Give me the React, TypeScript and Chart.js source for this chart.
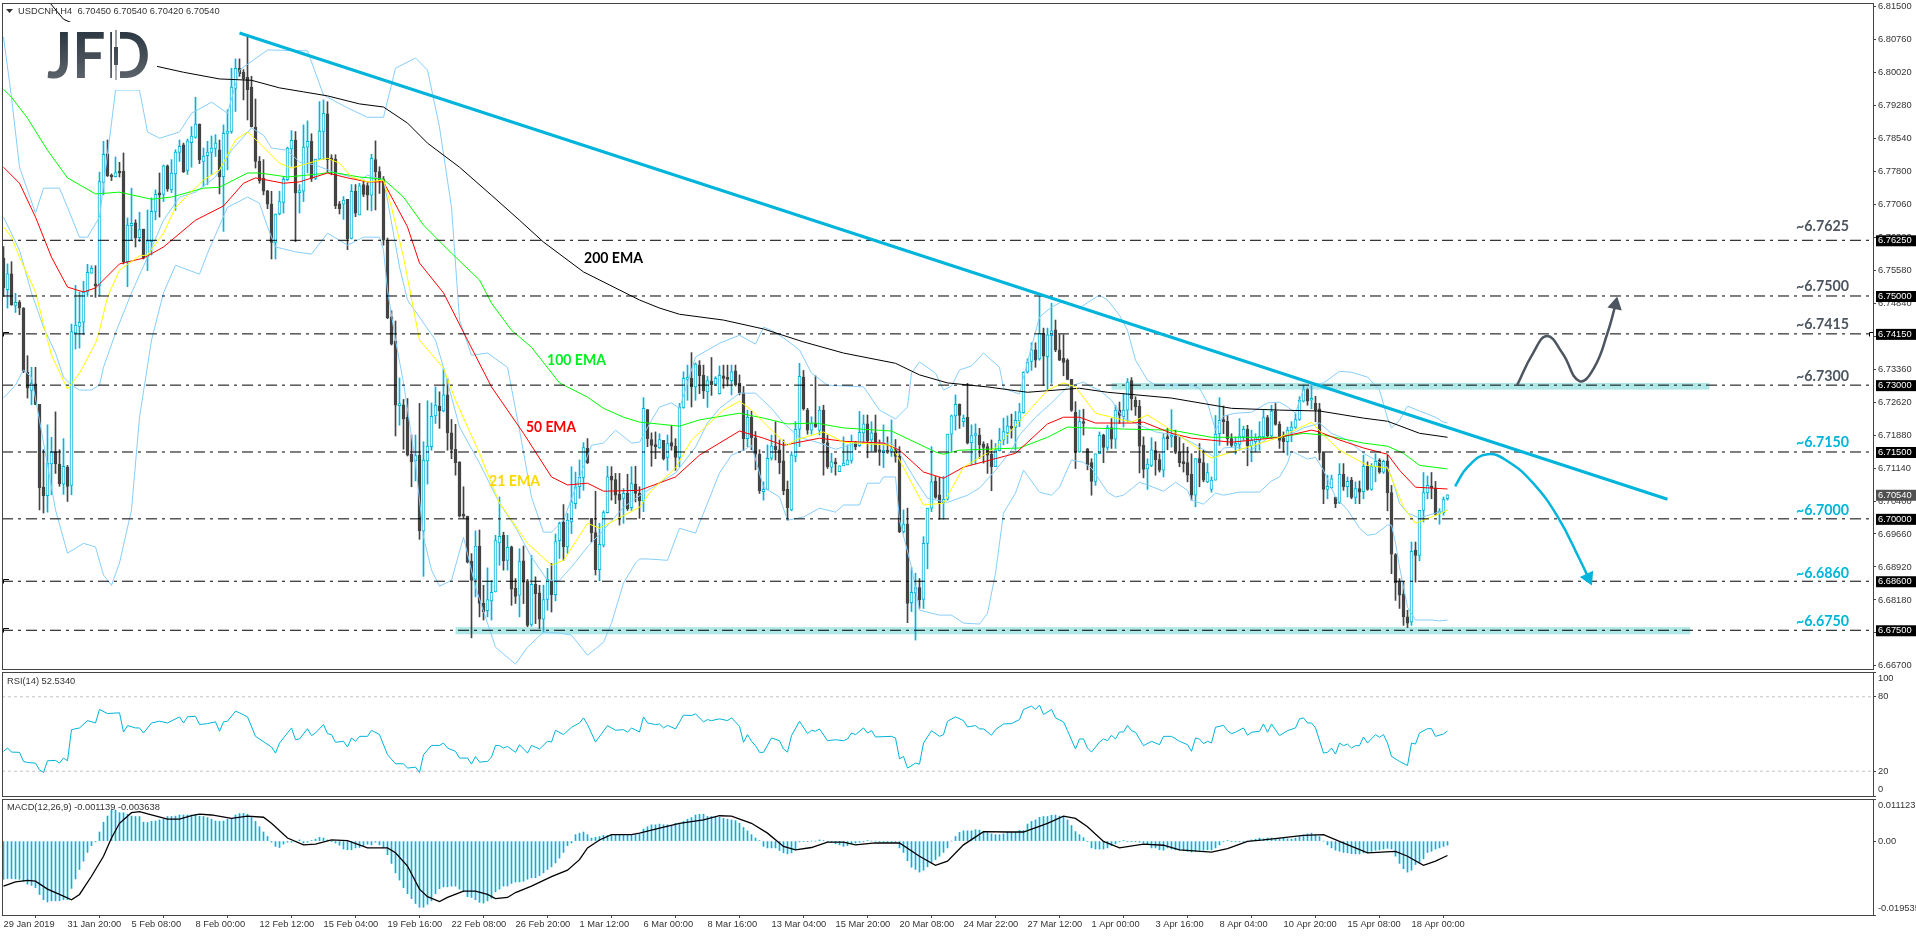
import { useEffect, useRef } from "react";
import { Chart, registerables } from "chart.js";
Chart.register(...registerables);

const opens = [6.7585,6.7514,6.7550,6.7479,6.7486,6.7473,6.7329,6.7288,6.7303,6.7257,6.7071,6.7052,6.7123,6.7151,6.7123,6.7078,6.7116,6.7075,6.7417,6.7432,6.7441,6.7509,6.7551,6.7527,6.7524,6.7755,6.7819,6.7770,6.7768,6.7777,6.7780,6.7577,6.7658,6.7664,6.7631,6.7650,6.7587,6.7622,6.7690,6.7728,6.7728,6.7792,6.7738,6.7774,6.7822,6.7839,6.7782,6.7844,6.7856,6.7886,6.7802,6.7815,6.7822,6.7831,6.7828,6.7768,6.7865,6.7869,6.7966,6.8011,6.8002,6.7991,6.7969,6.7879,6.7802,6.7764,6.7736,6.7706,6.7620,6.7684,6.7710,6.7761,6.7830,6.7850,6.7732,6.7735,6.7834,6.7847,6.7764,6.7807,6.7869,6.7909,6.7806,6.7807,6.7707,6.7706,6.7717,6.7629,6.7735,6.7682,6.7750,6.7748,6.7726,6.7806,6.7779,6.7762,6.7625,6.7453,6.7399,6.7254,6.7256,6.7228,6.7145,6.7130,6.7143,6.6973,6.7130,6.7162,6.7231,6.7253,6.7242,6.7278,6.7193,6.7156,6.7128,6.7007,6.7006,6.6905,6.6864,6.6939,6.6811,6.6794,6.6816,6.6836,6.6946,6.6963,6.6907,6.6937,6.6844,6.6829,6.6906,6.6861,6.6763,6.6853,6.6834,6.6775,6.6819,6.6862,6.6830,6.6951,6.6992,6.6937,6.6993,6.7034,6.7072,6.7093,6.7158,6.7001,6.6969,6.6886,6.6941,6.7014,6.7096,6.7088,6.7055,6.7046,6.7057,6.7025,6.7078,6.7057,6.7040,6.7245,6.7178,6.7165,6.7159,6.7176,6.7138,6.7171,6.7163,6.7138,6.7250,6.7313,6.7316,6.7296,6.7345,6.7322,6.7285,6.7309,6.7302,6.7281,6.7321,6.7315,6.7310,6.7332,6.7304,6.7283,6.7180,6.7228,6.7182,6.7145,6.7061,6.7066,6.7136,6.7163,6.7155,6.7130,6.7066,6.7020,6.7140,6.7201,6.7318,6.7244,6.7199,6.7214,6.7199,6.7244,6.7171,6.7116,6.7128,6.7106,6.7119,6.7121,6.7131,6.7172,6.7164,6.7193,6.7213,6.7177,6.7193,6.7155,6.7148,6.7153,6.7152,6.7157,6.7141,6.6971,6.6988,6.6812,6.6834,6.6846,6.6819,6.6945,6.7024,6.7084,6.7054,6.7036,6.7044,6.7190,6.7231,6.7257,6.7218,6.7228,6.7171,6.7187,6.7188,6.7168,6.7162,6.7145,6.7117,6.7153,6.7177,6.7193,6.7206,6.7205,6.7220,6.7238,6.7329,6.7353,6.7379,6.7359,6.7416,6.7364,6.7411,6.7424,6.7379,6.7360,6.7356,6.7313,6.7239,6.7150,6.7218,6.7157,6.7126,6.7084,6.7146,6.7188,6.7160,6.7205,6.7179,6.7244,6.7229,6.7244,6.7310,6.7266,6.7253,6.7165,6.7112,6.7120,6.7154,6.7133,6.7109,6.7182,6.7183,6.7185,6.7149,6.7128,6.7126,6.7100,6.7053,6.7135,6.7126,6.7083,6.7066,6.7087,6.7191,6.7220,6.7219,6.7180,6.7165,6.7167,6.7184,6.7201,6.7164,6.7173,6.7176,6.7184,6.7227,6.7186,6.7242,6.7212,6.7182,6.7173,6.7197,6.7205,6.7223,6.7264,6.7290,6.7266,6.7259,6.7247,6.7148,6.7066,6.7070,6.7048,6.7036,6.7100,6.7072,6.7087,6.7048,6.7068,6.7061,6.7118,6.7066,6.7117,6.7132,6.7105,6.7130,6.7059,6.6920,6.6859,6.6831,6.6780,6.6769,6.6930,6.6918,6.7019,6.7058,6.7072,6.7069,6.7013,6.7014,6.7045];
const highs = [6.7611,6.7572,6.7577,6.7506,6.7490,6.7474,6.7366,6.7340,6.7340,6.7257,6.7155,6.7211,6.7183,6.7240,6.7155,6.7180,6.7120,6.7437,6.7524,6.7509,6.7533,6.7571,6.7568,6.7568,6.7778,6.7847,6.7850,6.7774,6.7812,6.7800,6.7821,6.7675,6.7742,6.7671,6.7688,6.7650,6.7693,6.7720,6.7738,6.7776,6.7794,6.7794,6.7806,6.7828,6.7850,6.7843,6.7852,6.7880,6.7946,6.7886,6.7832,6.7847,6.7859,6.7862,6.7850,6.7884,6.7918,6.8011,6.8032,6.8032,6.8008,6.8086,6.7993,6.7942,6.7813,6.7806,6.7737,6.7735,6.7684,6.7735,6.7768,6.7834,6.7871,6.7869,6.7750,6.7884,6.7893,6.7864,6.7807,6.7936,6.7940,6.7936,6.7817,6.7817,6.7712,6.7723,6.7717,6.7750,6.7750,6.7753,6.7760,6.7754,6.7818,6.7848,6.7790,6.7768,6.7630,6.7467,6.7444,6.7316,6.7268,6.7270,6.7188,6.7188,6.7259,6.7173,6.7265,6.7260,6.7296,6.7285,6.7337,6.7315,6.7223,6.7212,6.7128,6.7072,6.7006,6.6922,6.6973,6.6975,6.6851,6.6890,6.6862,6.6963,6.7049,6.6970,6.6963,6.6939,6.6866,6.6933,6.6939,6.6864,6.6918,6.6870,6.6851,6.6851,6.6889,6.6900,6.6966,6.6993,6.7032,6.7012,6.7117,6.7105,6.7132,6.7171,6.7180,6.7001,6.7062,6.6990,6.7018,6.7118,6.7117,6.7102,6.7102,6.7068,6.7100,6.7117,6.7118,6.7072,6.7272,6.7245,6.7193,6.7195,6.7191,6.7176,6.7188,6.7210,6.7180,6.7259,6.7330,6.7345,6.7373,6.7350,6.7355,6.7345,6.7320,6.7362,6.7319,6.7343,6.7345,6.7345,6.7345,6.7345,6.7323,6.7297,6.7244,6.7242,6.7196,6.7155,6.7083,6.7166,6.7188,6.7218,6.7177,6.7177,6.7085,6.7151,6.7218,6.7349,6.7333,6.7248,6.7229,6.7321,6.7252,6.7255,6.7188,6.7147,6.7136,6.7119,6.7184,6.7166,6.7188,6.7174,6.7241,6.7233,6.7233,6.7218,6.7233,6.7177,6.7211,6.7184,6.7222,6.7178,6.7162,6.7020,6.7024,6.6891,6.6878,6.6866,6.6960,6.7024,6.7162,6.7095,6.7093,6.7095,6.7190,6.7233,6.7278,6.7258,6.7233,6.7304,6.7211,6.7213,6.7203,6.7173,6.7169,6.7177,6.7169,6.7203,6.7226,6.7231,6.7235,6.7241,6.7259,6.7330,6.7359,6.7395,6.7395,6.7502,6.7428,6.7428,6.7484,6.7446,6.7413,6.7413,6.7359,6.7313,6.7263,6.7244,6.7246,6.7158,6.7135,6.7146,6.7195,6.7190,6.7210,6.7225,6.7255,6.7262,6.7281,6.7315,6.7317,6.7274,6.7266,6.7184,6.7135,6.7182,6.7173,6.7146,6.7191,6.7203,6.7245,6.7199,6.7184,6.7169,6.7161,6.7146,6.7135,6.7169,6.7154,6.7124,6.7094,6.7232,6.7272,6.7253,6.7232,6.7191,6.7184,6.7225,6.7208,6.7210,6.7199,6.7191,6.7218,6.7244,6.7232,6.7255,6.7259,6.7218,6.7195,6.7206,6.7218,6.7236,6.7274,6.7300,6.7292,6.7300,6.7275,6.7259,6.7149,6.7098,6.7098,6.7049,6.7124,6.7124,6.7094,6.7093,6.7083,6.7085,6.7143,6.7128,6.7124,6.7146,6.7135,6.7132,6.7143,6.7075,6.6922,6.6866,6.6859,6.6795,6.6948,6.6948,6.7019,6.7104,6.7096,6.7104,6.7084,6.7023,6.7049,6.7054];
const lows = [6.7499,6.7473,6.7479,6.7463,6.7458,6.7328,6.7271,6.7256,6.7256,6.7020,6.7013,6.7015,6.7054,6.7102,6.7073,6.7055,6.7039,6.7054,6.7381,6.7383,6.7413,6.7499,6.7551,6.7497,6.7500,6.7727,6.7768,6.7759,6.7767,6.7767,6.7572,6.7521,6.7626,6.7610,6.7622,6.7583,6.7557,6.7592,6.7671,6.7677,6.7712,6.7735,6.7732,6.7692,6.7802,6.7777,6.7773,6.7789,6.7854,6.7797,6.7746,6.7750,6.7772,6.7813,6.7729,6.7645,6.7783,6.7865,6.7914,6.7993,6.7940,6.7895,6.7879,6.7787,6.7753,6.7727,6.7696,6.7583,6.7583,6.7682,6.7686,6.7759,6.7791,6.7622,6.7686,6.7712,6.7776,6.7757,6.7761,6.7806,6.7806,6.7779,6.7772,6.7696,6.7684,6.7672,6.7604,6.7628,6.7678,6.7682,6.7723,6.7693,6.7691,6.7693,6.7730,6.7614,6.7449,6.7390,6.7186,6.7210,6.7156,6.7141,6.7072,6.7085,6.6954,6.6871,6.7078,6.7154,6.7214,6.7203,6.7240,6.7154,6.7135,6.7098,6.7004,6.7001,6.6901,6.6733,6.6825,6.6780,6.6773,6.6780,6.6773,6.6836,6.6896,6.6885,6.6885,6.6806,6.6810,6.6780,6.6810,6.6758,6.6759,6.6765,6.6754,6.6746,6.6795,6.6791,6.6816,6.6911,6.6907,6.6922,6.6967,6.7023,6.7046,6.7064,6.7124,6.6948,6.6874,6.6861,6.6937,6.7013,6.7042,6.7034,6.6986,6.6990,6.7019,6.7019,6.7038,6.7001,6.7016,6.7162,6.7118,6.7135,6.7158,6.7132,6.7109,6.7154,6.7109,6.7117,6.7248,6.7266,6.7251,6.7266,6.7281,6.7270,6.7250,6.7277,6.7300,6.7280,6.7293,6.7298,6.7278,6.7298,6.7278,6.7153,6.7162,6.7155,6.7110,6.7057,6.7042,6.7065,6.7132,6.7132,6.7101,6.7054,6.6997,6.7018,6.7128,6.7162,6.7244,6.7190,6.7190,6.7205,6.7188,6.7098,6.7113,6.7104,6.7098,6.7106,6.7119,6.7121,6.7125,6.7155,6.7162,6.7169,6.7137,6.7152,6.7151,6.7120,6.7115,6.7147,6.7140,6.7127,6.6969,6.6968,6.6767,6.6792,6.6728,6.6799,6.6799,6.6888,6.7016,6.7046,6.6999,6.6999,6.7042,6.7151,6.7199,6.7203,6.7207,6.7168,6.7122,6.7123,6.7136,6.7125,6.7102,6.7063,6.7117,6.7152,6.7166,6.7169,6.7181,6.7154,6.7207,6.7237,6.7327,6.7333,6.7340,6.7356,6.7300,6.7289,6.7304,6.7375,6.7355,6.7321,6.7312,6.7241,6.7113,6.7149,6.7188,6.7110,6.7053,6.7075,6.7146,6.7126,6.7154,6.7158,6.7158,6.7214,6.7206,6.7218,6.7244,6.7232,6.7103,6.7092,6.7066,6.7117,6.7098,6.7105,6.7094,6.7155,6.7161,6.7146,6.7117,6.7105,6.7083,6.7042,6.7027,6.7072,6.7083,6.7081,6.7060,6.7087,6.7165,6.7191,6.7165,6.7161,6.7145,6.7154,6.7176,6.7119,6.7128,6.7150,6.7154,6.7180,6.7184,6.7180,6.7210,6.7158,6.7150,6.7143,6.7173,6.7203,6.7221,6.7262,6.7255,6.7247,6.7218,6.7132,6.7034,6.7045,6.7068,6.7025,6.7034,6.7064,6.7049,6.7045,6.7034,6.7034,6.7045,6.7064,6.7064,6.7083,6.7102,6.7102,6.7018,6.6877,6.6817,6.6799,6.6761,6.6756,6.6761,6.6858,6.6906,6.6993,6.7045,6.7045,6.7008,6.6988,6.7008,6.7042];
const closes = [6.7518,6.7550,6.7480,6.7486,6.7473,6.7331,6.7293,6.7304,6.7257,6.7070,6.7052,6.7125,6.7150,6.7123,6.7079,6.7118,6.7073,6.7420,6.7435,6.7441,6.7509,6.7553,6.7562,6.7523,6.7757,6.7818,6.7770,6.7767,6.7777,6.7776,6.7577,6.7659,6.7663,6.7631,6.7649,6.7585,6.7624,6.7690,6.7728,6.7727,6.7792,6.7741,6.7776,6.7823,6.7836,6.7779,6.7848,6.7859,6.7886,6.7806,6.7814,6.7823,6.7832,6.7843,6.7767,6.7865,6.7870,6.7969,6.8011,6.7999,6.7987,6.7963,6.7880,6.7802,6.7758,6.7735,6.7706,6.7620,6.7684,6.7712,6.7762,6.7832,6.7849,6.7731,6.7735,6.7834,6.7847,6.7764,6.7807,6.7870,6.7910,6.7806,6.7805,6.7702,6.7696,6.7715,6.7628,6.7735,6.7686,6.7747,6.7728,6.7726,6.7809,6.7779,6.7760,6.7625,6.7451,6.7392,6.7255,6.7257,6.7224,6.7143,6.7128,6.7142,6.6973,6.7132,6.7163,6.7230,6.7255,6.7242,6.7278,6.7193,6.7156,6.7126,6.7006,6.7006,6.6903,6.6862,6.6939,6.6810,6.6791,6.6819,6.6835,6.6951,6.6961,6.6906,6.6936,6.6842,6.6826,6.6904,6.6858,6.6761,6.6853,6.6832,6.6775,6.6819,6.6865,6.6830,6.6949,6.6990,6.6937,6.6997,6.7038,6.7072,6.7093,6.7160,6.7126,6.6969,6.6886,6.6943,6.7014,6.7094,6.7087,6.7053,6.7042,6.7057,6.7023,6.7079,6.7057,6.7040,6.7248,6.7180,6.7165,6.7162,6.7178,6.7135,6.7169,6.7163,6.7138,6.7250,6.7315,6.7316,6.7296,6.7347,6.7321,6.7287,6.7310,6.7301,6.7315,6.7322,6.7315,6.7313,6.7330,6.7300,6.7283,6.7180,6.7228,6.7182,6.7145,6.7063,6.7066,6.7136,6.7163,6.7155,6.7126,6.7063,6.7025,6.7143,6.7201,6.7320,6.7247,6.7199,6.7214,6.7207,6.7244,6.7171,6.7117,6.7128,6.7123,6.7119,6.7125,6.7132,6.7172,6.7162,6.7194,6.7213,6.7175,6.7193,6.7152,6.7149,6.7154,6.7149,6.7157,6.7140,6.6971,6.6988,6.6810,6.6835,6.6846,6.6818,6.6945,6.7024,6.7083,6.7048,6.7036,6.7044,6.7190,6.7231,6.7257,6.7232,6.7226,6.7170,6.7187,6.7188,6.7166,6.7160,6.7143,6.7117,6.7155,6.7177,6.7196,6.7208,6.7203,6.7221,6.7240,6.7329,6.7352,6.7379,6.7356,6.7416,6.7365,6.7413,6.7422,6.7379,6.7356,6.7351,6.7313,6.7243,6.7149,6.7218,6.7214,6.7121,6.7084,6.7146,6.7188,6.7160,6.7205,6.7179,6.7244,6.7232,6.7244,6.7307,6.7269,6.7251,6.7163,6.7111,6.7123,6.7155,6.7133,6.7109,6.7182,6.7180,6.7184,6.7149,6.7126,6.7124,6.7098,6.7053,6.7135,6.7126,6.7087,6.7104,6.7087,6.7190,6.7221,6.7218,6.7180,6.7165,6.7169,6.7186,6.7201,6.7164,6.7176,6.7182,6.7185,6.7227,6.7186,6.7242,6.7212,6.7176,6.7173,6.7199,6.7206,6.7223,6.7266,6.7290,6.7264,6.7267,6.7245,6.7148,6.7066,6.7073,6.7090,6.7034,6.7100,6.7072,6.7084,6.7048,6.7068,6.7060,6.7118,6.7066,6.7117,6.7129,6.7105,6.7129,6.7058,6.6921,6.6856,6.6829,6.6780,6.6766,6.6927,6.6918,6.7019,6.7059,6.7075,6.7069,6.7010,6.7014,6.7043,6.7054];

const ema200 = [[10,6.8175],[15,6.8121],[27,6.8074],[38,6.8016],[45,6.8002],[54,6.7987],[62,6.7984],[69,6.7967],[75,6.7958],[81,6.7949],[89,6.7931],[95,6.7924],[101,6.7888],[106,6.7843],[114,6.7789],[122,6.7726],[129,6.7670],[135,6.7621],[145,6.7554],[159,6.7491],[164,6.7473],[169,6.7459],[180,6.7446],[190,6.7426],[200,6.7397],[210,6.7372],[223,6.7349],[229,6.7323],[236,6.7305],[246,6.7296],[256,6.7284],[269,6.7293],[276,6.7284],[292,6.7271],[307,6.7248],[319,6.7244],[329,6.7242],[340,6.7226],[346,6.7219],[354,6.7192],[361,6.7183]];
const ema100 = [[0,6.7964],[2,6.7946],[6,6.7899],[11,6.7827],[16,6.7765],[23,6.7729],[29,6.7733],[37,6.7717],[42,6.7722],[50,6.7742],[54,6.7744],[61,6.7776],[64,6.7776],[71,6.7767],[79,6.7774],[82,6.7778],[89,6.7767],[95,6.7762],[100,6.7722],[105,6.7659],[112,6.7596],[119,6.7536],[122,6.7484],[127,6.7423],[132,6.7385],[139,6.7305],[146,6.7273],[150,6.7248],[155,6.7228],[159,6.7217],[169,6.7208],[174,6.7222],[184,6.7237],[190,6.7226],[196,6.7213],[203,6.7215],[210,6.7204],[222,6.7197],[233,6.7150],[235,6.7145],[239,6.7154],[254,6.7159],[261,6.7183],[266,6.7206],[271,6.7204],[282,6.7201],[292,6.7199],[302,6.7183],[319,6.7183],[325,6.7192],[330,6.7188],[340,6.7170],[346,6.7163],[350,6.7147],[354,6.7120],[361,6.7112]];
const ema50 = [[0,6.7789],[4,6.7753],[8,6.7677],[12,6.7587],[16,6.7520],[20,6.7509],[23,6.7518],[29,6.7572],[35,6.7585],[40,6.7610],[48,6.7670],[55,6.7702],[60,6.7753],[63,6.7765],[70,6.7753],[74,6.7756],[81,6.7776],[86,6.7765],[91,6.7756],[95,6.7756],[101,6.7655],[104,6.7574],[110,6.7507],[116,6.7401],[122,6.7296],[130,6.7192],[137,6.7094],[141,6.7076],[146,6.7080],[150,6.7062],[159,6.7064],[168,6.7094],[174,6.7143],[184,6.7197],[190,6.7181],[195,6.7165],[204,6.7181],[210,6.7174],[220,6.7170],[224,6.7154],[230,6.7105],[235,6.7091],[240,6.7116],[253,6.7147],[261,6.7213],[265,6.7228],[269,6.7228],[273,6.7215],[282,6.7215],[285,6.7217],[292,6.7192],[297,6.7181],[307,6.7172],[319,6.7183],[327,6.7199],[329,6.7195],[334,6.7177],[340,6.7159],[346,6.7145],[349,6.7109],[353,6.7071],[361,6.7067]];
const ema21 = [[0,6.7655],[2,6.7632],[4,6.7587],[8,6.7509],[11,6.7401],[12,6.7367],[16,6.7291],[19,6.7327],[23,6.7394],[24,6.7423],[26,6.7498],[29,6.7558],[34,6.7590],[36,6.7592],[40,6.7641],[43,6.7699],[50,6.7760],[54,6.7783],[58,6.7850],[61,6.7868],[64,6.7843],[69,6.7798],[72,6.7787],[79,6.7805],[81,6.7809],[84,6.7798],[87,6.7767],[91,6.7756],[95,6.7760],[97,6.7699],[100,6.7587],[104,6.7401],[110,6.7338],[113,6.7266],[119,6.7147],[124,6.7035],[127,6.6997],[131,6.6945],[137,6.6896],[140,6.6907],[146,6.6990],[149,6.6979],[159,6.7026],[162,6.7064],[168,6.7114],[172,6.7177],[180,6.7244],[184,6.7264],[187,6.7244],[192,6.7199],[196,6.7165],[198,6.7177],[205,6.7195],[210,6.7172],[222,6.7165],[224,6.7132],[230,6.7031],[235,6.7035],[240,6.7116],[248,6.7159],[261,6.7289],[265,6.7305],[268,6.7296],[273,6.7237],[282,6.7217],[286,6.7233],[292,6.7199],[302,6.7136],[319,6.7183],[327,6.7217],[330,6.7188],[334,6.7154],[341,6.7120],[346,6.7114],[350,6.7026],[353,6.6990],[360,6.7015],[361,6.7020]];
const bbUpper = [[0,6.8081],[2,6.7946],[4,6.7789],[8,6.7686],[10,6.7742],[14,6.7742],[16,6.7699],[19,6.7632],[21,6.7632],[24,6.7677],[27,6.7888],[28,6.7962],[34,6.7962],[36,6.7868],[39,6.7854],[44,6.7868],[47,6.7910],[52,6.7935],[56,6.7910],[59,6.8007],[66,6.8052],[76,6.8050],[80,6.7951],[86,6.7922],[91,6.7901],[95,6.7901],[98,6.8011],[103,6.8034],[106,6.8007],[109,6.7879],[112,6.7699],[114,6.7446],[117,6.7367],[121,6.7372],[126,6.7340],[129,6.7199],[132,6.7049],[135,6.6970],[137,6.6970],[140,6.6997],[147,6.7165],[150,6.7170],[153,6.7199],[157,6.7170],[159,6.7172],[162,6.7221],[164,6.7251],[167,6.7260],[169,6.7248],[173,6.7363],[179,6.7394],[184,6.7412],[188,6.7392],[190,6.7430],[192,6.7423],[195,6.7406],[199,6.7379],[202,6.7327],[206,6.7300],[215,6.7296],[219,6.7244],[223,6.7224],[226,6.7251],[227,6.7327],[229,6.7352],[233,6.7327],[235,6.7289],[237,6.7298],[239,6.7334],[242,6.7343],[245,6.7372],[249,6.7340],[250,6.7293],[254,6.7280],[255,6.7318],[259,6.7453],[262,6.7475],[265,6.7489],[269,6.7473],[272,6.7491],[274,6.7502],[276,6.7491],[279,6.7457],[281,6.7423],[283,6.7356],[286,6.7311],[288,6.7300],[297,6.7300],[299,6.7293],[301,6.7260],[303,6.7199],[305,6.7231],[308,6.7237],[312,6.7239],[316,6.7260],[319,6.7262],[321,6.7251],[323,6.7237],[325,6.7291],[327,6.7300],[330,6.7305],[334,6.7331],[337,6.7329],[341,6.7318],[344,6.7289],[346,6.7226],[347,6.7204],[349,6.7221],[351,6.7253],[354,6.7242],[358,6.7228],[360,6.7217],[361,6.7215]];
const bbMiddle = [[0,6.7677],[4,6.7603],[7,6.7507],[10,6.7430],[13,6.7372],[15,6.7318],[17,6.7300],[19,6.7289],[22,6.7289],[24,6.7300],[25,6.7340],[28,6.7417],[32,6.7507],[36,6.7587],[40,6.7670],[44,6.7722],[48,6.7733],[53,6.7767],[57,6.7827],[62,6.7877],[65,6.7861],[67,6.7832],[71,6.7827],[74,6.7800],[78,6.7794],[83,6.7776],[87,6.7767],[89,6.7760],[91,6.7771],[95,6.7760],[96,6.7715],[99,6.7565],[101,6.7491],[108,6.7401],[110,6.7340],[114,6.7206],[119,6.7125],[124,6.7035],[128,6.6981],[132,6.6914],[136,6.6862],[139,6.6862],[142,6.6892],[146,6.6937],[150,6.6975],[155,6.7026],[160,6.7058],[168,6.7103],[173,6.7161],[176,6.7215],[179,6.7248],[184,6.7282],[188,6.7282],[192,6.7248],[195,6.7215],[199,6.7183],[204,6.7170],[208,6.7156],[213,6.7170],[217,6.7170],[222,6.7170],[224,6.7147],[228,6.7087],[231,6.7046],[236,6.7037],[241,6.7053],[244,6.7069],[248,6.7109],[252,6.7154],[254,6.7188],[258,6.7228],[262,6.7260],[266,6.7296],[270,6.7307],[272,6.7296],[274,6.7289],[277,6.7266],[280,6.7226],[284,6.7210],[288,6.7195],[293,6.7188],[297,6.7172],[301,6.7150],[303,6.7136],[305,6.7159],[308,6.7161],[312,6.7154],[316,6.7181],[319,6.7183],[323,6.7195],[325,6.7204],[329,6.7215],[332,6.7192],[336,6.7177],[340,6.7147],[343,6.7132],[346,6.7116],[347,6.7094],[349,6.7035],[351,6.7013],[354,6.7002],[358,6.7013],[361,6.7020]];
const bbLower = [[0,6.7271],[3,6.7300],[5,6.7334],[7,6.7318],[9,6.7221],[13,6.7020],[16,6.6923],[20,6.6945],[23,6.6937],[25,6.6874],[27,6.6851],[29,6.6901],[32,6.7020],[34,6.7228],[37,6.7401],[40,6.7507],[43,6.7569],[49,6.7549],[51,6.7596],[56,6.7699],[61,6.7722],[64,6.7708],[66,6.7655],[68,6.7610],[73,6.7599],[77,6.7594],[81,6.7641],[84,6.7625],[86,6.7614],[90,6.7632],[94,6.7632],[95,6.7603],[96,6.7513],[98,6.7401],[100,6.7305],[103,6.7125],[105,6.6959],[107,6.6885],[109,6.6849],[112,6.6862],[115,6.6959],[118,6.6847],[121,6.6766],[123,6.6712],[128,6.6674],[131,6.6712],[135,6.6746],[139,6.6744],[142,6.6739],[146,6.6694],[150,6.6723],[152,6.6766],[155,6.6856],[158,6.6901],[159,6.6910],[161,6.6910],[166,6.6907],[169,6.6979],[173,6.6968],[176,6.7035],[179,6.7103],[182,6.7143],[185,6.7154],[187,6.7165],[190,6.7071],[194,6.7049],[196,6.6997],[200,6.7004],[204,6.7024],[208,6.7015],[210,6.7031],[214,6.7031],[216,6.7080],[219,6.7080],[220,6.7094],[223,6.7094],[224,6.6997],[227,6.6892],[229,6.6795],[234,6.6784],[237,6.6784],[240,6.6766],[244,6.6764],[246,6.6788],[248,6.6878],[250,6.7013],[253,6.7058],[255,6.7109],[259,6.7060],[262,6.7053],[264,6.7071],[267,6.7132],[270,6.7127],[272,6.7114],[274,6.7087],[276,6.7060],[278,6.7049],[280,6.7053],[284,6.7082],[286,6.7076],[290,6.7062],[293,6.7082],[296,6.7064],[297,6.7042],[300,6.7033],[303,6.7058],[305,6.7053],[309,6.7060],[314,6.7060],[317,6.7085],[319,6.7094],[321,6.7125],[322,6.7152],[324,6.7143],[326,6.7134],[328,6.7138],[330,6.7109],[333,6.7049],[336,6.7020],[339,6.6979],[341,6.6963],[343,6.6966],[346,6.6986],[347,6.6986],[348,6.6946],[349,6.6892],[351,6.6802],[353,6.6773],[357,6.6773],[359,6.6771],[361,6.6773]];

const trendLine = [[59,6.8090],[416,6.7044]];
const arrowUp = [[378.4,6.7300],[382.4,6.7372],[385.9,6.7410],[389.7,6.7372],[394,6.7309],[397.7,6.7340],[401,6.7417],[403,6.7480]];
const arrowDown = [[362.9,6.7073],[366,6.7116],[371,6.7145],[376.4,6.7127],[382.4,6.7080],[388.6,6.7004],[394,6.6910],[396.2,6.6868]];
const levels = [6.7625,6.75,6.7415,6.73,6.715,6.70,6.686,6.675];
const priceTicks = [6.815,6.8076,6.8002,6.7928,6.7854,6.778,6.7706,6.7632,6.7558,6.7484,6.741,6.7336,6.7262,6.7188,6.7114,6.704,6.6966,6.6892,6.6818,6.6744,6.667];
const levelTexts = ["~6.7625","~6.7500","~6.7415","~6.7300","~6.7150","~6.7000","~6.6860","~6.6750"];
const zones = [[277,426.5,6.7305,6.7290],[113,421.7,6.6757,6.6741]];

const rsi = [[0,36],[1,38.7],[2,35.4],[4,35.2],[5,27.9],[6,27],[8,26.5],[9,21.1],[10,19],[11,28.4],[13,28.7],[14,26.5],[15,30.6],[16,28.4],[17,53.5],[19,54.9],[21,60.8],[23,58.9],[24,69.8],[26,66.5],[29,67.1],[30,51.6],[31,56.8],[33,54.9],[34,54.9],[35,50.8],[37,58.9],[39,60.3],[41,58.9],[44,63.8],[45,58.9],[46,63.8],[48,64.3],[49,57.6],[51,58.4],[53,59.8],[54,52.2],[55,59.8],[56,60.3],[58,68.4],[59,67.1],[61,63.8],[63,48.1],[67,39.5],[68,34.6],[69,42.7],[70,46.8],[72,54.9],[73,45.4],[74,46],[76,54.3],[77,48.7],[78,50.8],[80,57.6],[81,50.3],[82,49.5],[83,43.3],[85,44.1],[86,39.5],[87,46.8],[88,44.1],[89,48.1],[91,48.1],[92,53],[94,49.5],[96,33.3],[98,26],[100,26],[101,22.5],[103,23.3],[104,18.9],[105,33.3],[107,40.8],[109,40.8],[110,42.7],[111,38.7],[113,36],[114,30.6],[116,30.6],[117,25.7],[118,31.9],[119,27.3],[121,27.9],[122,31.4],[123,40.8],[124,40.6],[125,38.7],[126,40],[128,35.2],[129,41.4],[131,34.6],[132,40.8],[134,37.9],[136,44.1],[137,43.5],[138,53],[140,49.5],[142,55.4],[144,58.9],[145,63],[146,57.6],[148,43.5],[151,56.8],[153,53],[155,53.5],[156,51.4],[157,54.9],[159,51.6],[160,63.8],[161,58.9],[163,57.6],[164,58.1],[165,54.9],[166,57],[168,54.1],[170,65.2],[172,64.9],[173,66.2],[175,59.8],[176,61.6],[177,60.8],[179,62.2],[181,60.8],[182,63],[184,56.2],[185,43.3],[186,49.5],[187,44.1],[188,40.6],[189,35.2],[190,35.2],[192,46.8],[194,44.6],[195,37.9],[196,35.4],[197,48.7],[199,60.3],[201,50.3],[202,53],[203,52.2],[204,54.1],[206,44.6],[208,45.4],[210,44.6],[211,46],[212,50.8],[213,49.5],[215,54.9],[216,50.8],[217,52.7],[218,47.6],[222,48.1],[223,46.8],[224,30],[225,31.9],[226,22.5],[228,26.5],[229,25.7],[230,42.7],[232,52.7],[234,48.1],[235,49.5],[236,60.3],[238,63.8],[240,60.8],[241,55.7],[243,56.8],[244,54.1],[245,54.1],[247,49],[248,53.5],[250,58.1],[252,58.4],[254,61.6],[255,69.8],[257,72.5],[258,69.8],[259,73.3],[260,65.7],[262,69.8],[263,63],[265,59.8],[266,52.7],[268,37.9],[269,46],[270,46],[271,38.7],[272,35.4],[274,43.5],[275,46],[276,44.6],[277,49],[278,46],[279,51.6],[280,51.6],[281,57],[282,52.7],[283,51.4],[285,40.6],[287,44.1],[289,41.4],[290,48.1],[292,48.1],[294,44.1],[296,41.4],[297,36],[298,46.8],[299,46],[300,42.2],[301,44.1],[302,42.7],[303,55.4],[305,57],[306,52.7],[307,50.3],[308,51.4],[310,54.9],[311,49],[312,51.4],[314,52.2],[315,58.1],[316,51.4],[317,58.1],[319,48.7],[321,52.7],[323,54.9],[324,62.2],[325,63],[326,58.9],[327,58.9],[328,54.9],[330,34.6],[331,35.2],[332,38.7],[333,33.8],[334,42.7],[335,40.6],[336,41.9],[337,38.7],[338,40.6],[339,40.6],[340,47.6],[341,42.7],[343,49.5],[344,47.3],[345,49.5],[346,42.7],[347,31.9],[349,27.9],[351,24.6],[352,42.7],[353,41.9],[354,50.8],[356,54.3],[357,54.3],[358,48.1],[360,50],[361,52.5]];
const rsiLevels = [80,20];
const rsiTicks = [100,80,20,0];

const macdHist = [-0.0101,-0.0099,-0.0099,-0.0100,-0.0101,-0.0106,-0.0114,-0.0117,-0.0123,-0.0141,-0.0155,-0.0161,-0.0158,-0.0158,-0.0158,-0.0155,-0.0155,-0.0125,-0.0100,-0.0075,-0.0053,-0.0030,-0.0012,-0.0002,0.0024,0.0050,0.0066,0.0082,0.0082,0.0075,0.0075,0.0071,0.0066,0.0065,0.0065,0.0050,0.0049,0.0052,0.0053,0.0056,0.0058,0.0065,0.0065,0.0066,0.0069,0.0069,0.0069,0.0069,0.0071,0.0066,0.0065,0.0062,0.0058,0.0053,0.0052,0.0053,0.0058,0.0060,0.0069,0.0073,0.0073,0.0071,0.0065,0.0052,0.0038,0.0024,0.0012,-0.0003,-0.0014,-0.0017,-0.0008,-0.0003,-0.0003,-0.0001,0.0003,-0.0005,-0.0003,0.0001,0.0005,0.0010,0.0008,0.0003,-0.0001,-0.0005,-0.0011,-0.0021,-0.0023,-0.0023,-0.0018,-0.0017,-0.0012,-0.0008,-0.0010,-0.0003,-0.0010,-0.0018,-0.0036,-0.0059,-0.0084,-0.0103,-0.0123,-0.0139,-0.0152,-0.0165,-0.0175,-0.0175,-0.0167,-0.0158,-0.0139,-0.0126,-0.0121,-0.0121,-0.0119,-0.0119,-0.0127,-0.0134,-0.0147,-0.0149,-0.0155,-0.0162,-0.0164,-0.0158,-0.0151,-0.0134,-0.0127,-0.0119,-0.0119,-0.0112,-0.0108,-0.0108,-0.0106,-0.0101,-0.0097,-0.0097,-0.0091,-0.0084,-0.0075,-0.0068,-0.0058,-0.0045,-0.0030,-0.0012,-0.0005,0.0017,0.0021,0.0024,0.0017,0.0008,0.0010,0.0012,0.0015,0.0015,0.0017,0.0016,0.0016,0.0015,0.0017,0.0015,0.0017,0.0018,0.0032,0.0038,0.0043,0.0043,0.0045,0.0043,0.0043,0.0041,0.0047,0.0047,0.0052,0.0058,0.0062,0.0069,0.0071,0.0071,0.0065,0.0065,0.0065,0.0063,0.0060,0.0058,0.0056,0.0054,0.0047,0.0036,0.0027,0.0017,0.0008,0.0001,-0.0014,-0.0018,-0.0018,-0.0018,-0.0025,-0.0031,-0.0034,-0.0031,-0.0023,-0.0002,-0.0001,-0.0001,0.0000,0.0000,0.0003,0.0001,-0.0002,-0.0003,-0.0007,-0.0010,-0.0014,-0.0012,-0.0007,-0.0005,-0.0003,-0.0002,0.0001,0.0000,0.0000,-0.0001,-0.0003,-0.0003,-0.0003,-0.0003,-0.0018,-0.0030,-0.0052,-0.0069,-0.0075,-0.0082,-0.0077,-0.0068,-0.0058,-0.0049,-0.0040,-0.0030,-0.0018,0.0000,0.0012,0.0023,0.0027,0.0027,0.0027,0.0030,0.0029,0.0024,0.0022,0.0019,0.0017,0.0017,0.0019,0.0023,0.0023,0.0023,0.0028,0.0028,0.0045,0.0052,0.0056,0.0063,0.0065,0.0065,0.0068,0.0069,0.0066,0.0065,0.0056,0.0041,0.0025,0.0017,0.0009,-0.0001,-0.0018,-0.0021,-0.0021,-0.0021,-0.0018,-0.0012,-0.0007,-0.0002,0.0001,-0.0001,-0.0001,-0.0002,-0.0003,-0.0005,-0.0007,-0.0018,-0.0018,-0.0023,-0.0024,-0.0018,-0.0021,-0.0023,-0.0024,-0.0024,-0.0027,-0.0029,-0.0027,-0.0024,-0.0024,-0.0023,-0.0023,-0.0018,-0.0010,-0.0002,0.0001,-0.0001,-0.0002,-0.0002,-0.0002,0.0000,0.0003,0.0005,0.0008,0.0006,0.0008,0.0008,0.0006,0.0007,0.0008,0.0006,0.0005,0.0008,0.0012,0.0016,0.0019,0.0021,0.0017,0.0012,0.0000,-0.0010,-0.0018,-0.0024,-0.0027,-0.0030,-0.0031,-0.0033,-0.0034,-0.0034,-0.0031,-0.0031,-0.0027,-0.0024,-0.0023,-0.0021,-0.0019,-0.0021,-0.0040,-0.0059,-0.0073,-0.0082,-0.0077,-0.0062,-0.0058,-0.0047,-0.0030,-0.0027,-0.0021,-0.0018,-0.0014,-0.0011];
const macdSignal = [[0,-0.0119],[3,-0.0108],[6,-0.0104],[8,-0.0106],[11,-0.0127],[14,-0.0141],[17,-0.0155],[19,-0.0141],[22,-0.0093],[25,-0.0040],[27,0.0008],[29,0.0047],[32,0.0075],[34,0.0078],[37,0.0069],[41,0.0058],[44,0.0058],[47,0.0067],[49,0.0071],[52,0.0069],[57,0.0060],[61,0.0066],[65,0.0063],[67,0.0047],[71,0.0008],[75,-0.0010],[78,-0.0008],[82,0.0003],[86,0.0001],[91,-0.0018],[96,-0.0018],[98,-0.0031],[101,-0.0066],[104,-0.0127],[106,-0.0147],[109,-0.0160],[111,-0.0149],[115,-0.0132],[118,-0.0132],[121,-0.0141],[123,-0.0152],[126,-0.0149],[128,-0.0136],[132,-0.0119],[137,-0.0094],[141,-0.0077],[144,-0.0049],[146,-0.0018],[149,0.0003],[152,0.0017],[157,0.0017],[159,0.0021],[164,0.0034],[169,0.0047],[175,0.0056],[179,0.0067],[182,0.0066],[187,0.0047],[191,0.0021],[195,-0.0014],[198,-0.0023],[202,-0.0017],[206,-0.0003],[210,-0.0003],[213,-0.0010],[218,-0.0005],[224,-0.0005],[229,-0.0040],[233,-0.0064],[236,-0.0053],[240,-0.0010],[245,0.0025],[251,0.0024],[255,0.0024],[261,0.0047],[265,0.0066],[268,0.0060],[271,0.0038],[275,-0.0001],[279,-0.0018],[285,-0.0008],[290,-0.0011],[294,-0.0023],[302,-0.0029],[306,-0.0020],[311,-0.0001],[315,0.0003],[319,0.0008],[325,0.0015],[330,0.0017],[334,-0.0001],[341,-0.0031],[348,-0.0027],[351,-0.0040],[355,-0.0064],[358,-0.0053],[361,-0.0038]];
const macdTicks = [0.011123,0,-0.019535];
const timeLabels = ["29 Jan 2019","31 Jan 20:00","5 Feb 08:00","8 Feb 00:00","12 Feb 12:00","15 Feb 04:00","19 Feb 16:00","22 Feb 08:00","26 Feb 20:00","1 Mar 12:00","6 Mar 00:00","8 Mar 16:00","13 Mar 04:00","15 Mar 20:00","20 Mar 08:00","24 Mar 22:00","27 Mar 12:00","1 Apr 00:00","3 Apr 16:00","8 Apr 04:00","10 Apr 20:00","15 Apr 08:00","18 Apr 00:00"];

const CYAN = "#00b4d8";
const DARK = "#444444";
const BB = "#87cefa";
const AXIS = "#444444";
const SLATE = "#4d5660";
const LABEL_FONT = "Liberation Sans";
const SMALL = `9.3px ${LABEL_FONT}`;
const TICK_FONT = { family: LABEL_FONT, size: 9.3 };
const X_MIN = -0.375;
const X_MAX = 467.375;

const pts = (a: number[][]) => a.map(([x, y]) => ({ x, y }));
const line = (data: number[][], color: string, width: number, order: number, extra: any = {}) => ({
  type: "line", data: pts(data), borderColor: color, borderWidth: width, pointRadius: 0, tension: 0, order, ...extra,
});

function put(ctx: any, s: string, x: number, y: number, font: string, color: string, maxW?: number) {
  ctx.font = font; ctx.fillStyle = color; ctx.textAlign = "left"; ctx.textBaseline = "middle";
  if (maxW) ctx.fillText(s, x, y, maxW); else ctx.fillText(s, x, y);
}
function frame(ctx: any, a: any) {
  ctx.save(); ctx.strokeStyle = AXIS; ctx.lineWidth = 1;
  ctx.strokeRect(a.left + 0.5, a.top + 0.5, a.right - a.left, a.bottom - a.top);
  ctx.restore();
}
const noPad = (s: any) => { s.paddingTop = 0; s.paddingBottom = 0; s.paddingLeft = 0; s.paddingRight = 0; };
const xScale = (display = false) => ({ type: "linear", bounds: "data", display, min: X_MIN, max: X_MAX, offset: false, grid: { display: false } });
const yScale = (min: number, max: number, values: number[], cb: (v: number) => string) => ({
  type: "linear", bounds: "data", position: "right", min, max, beginAtZero: false,
  afterFit: (s: any) => { s.width = 43; noPad(s); },
  afterBuildTicks: (s: any) => { s.ticks = values.map((value) => ({ value })); s.min = min; s.max = max; },
  border: { display: false },
  grid: { drawOnChartArea: false, tickLength: 3, color: AXIS },
  ticks: { autoSkip: false, padding: 2, color: "#333", font: TICK_FONT, callback: cb },
});
const base = (padding: any, scales: any) => ({
  responsive: false, animation: false, events: [], maintainAspectRatio: false,
  layout: { padding, autoPadding: false }, plugins: { legend: { display: false }, tooltip: { enabled: false } }, scales,
});

const mainOverlay = {
  id: "mainOverlay",
  beforeDatasetsDraw(c: any) {
    const { ctx, scales: { x, y } } = c;
    ctx.save(); ctx.fillStyle = "#b0e8e8";
    zones.forEach(([a, b, t, u]) => {
      const l = x.getPixelForValue(a), r = x.getPixelForValue(b), top = y.getPixelForValue(t), bot = y.getPixelForValue(u);
      ctx.fillRect(l, top, r - l, bot - top);
    });
    ctx.restore();
  },
  afterDraw(c: any) {
    const { ctx, chartArea, scales: { y } } = c;
    ctx.save();
    ctx.fillStyle = "#fff"; ctx.fillRect(40, 22, 117, 68);
    const g = ctx.createLinearGradient(0, 32, 0, 78);
    g.addColorStop(0, "#2c3843"); g.addColorStop(1, "#5b6269");
    ctx.font = "bold 63px Lato"; ctx.fillStyle = g; ctx.textAlign = "left"; ctx.textBaseline = "alphabetic";
    ctx.fillText("JFD", 47, 78, 103);
    ctx.fillStyle = "#fff"; ctx.fillRect(112, 30, 8, 50);
    ctx.fillStyle = g; ctx.fillRect(115.5, 30, 1, 50); ctx.fillRect(114, 47, 4, 18);

    ctx.fillStyle = "#333"; ctx.beginPath(); ctx.moveTo(6, 9); ctx.lineTo(13, 9); ctx.lineTo(9.5, 13); ctx.fill();
    put(ctx, "USDCNH,H4  6.70450 6.70540 6.70420 6.70540", 18, 11, SMALL, "#333");

    const bold = "bold 15px Lato";
    put(ctx, "200 EMA", 584, 258, bold, "#000", 59);
    put(ctx, "100 EMA", 547, 360, bold, "#00ee22", 59);
    put(ctx, "50 EMA", 526, 427, bold, "#ff0000", 50);
    put(ctx, "21 EMA", 489, 481, bold, "#ffd700", 51);
    const ys = [226, 286, 324, 376, 442, 510, 573, 621];
    levelTexts.forEach((t, i) => put(ctx, t, 1796, ys[i], bold, i >= 4 ? "#00b4dc" : SLATE, 53));

    ctx.strokeStyle = "#000"; ctx.lineWidth = 1;
    [6.7415, 6.686, 6.675].forEach((p) => {
      const py = Math.round(y.getPixelForValue(p)) - 0.5;
      ctx.beginPath(); ctx.moveTo(3.5, py + 3); ctx.lineTo(3.5, py - 1); ctx.lineTo(9, py - 1); ctx.stroke();
    });
    const rp = Math.round(y.getPixelForValue(6.7415)) - 0.5;
    ctx.beginPath(); ctx.moveTo(1869.5, rp + 3); ctx.lineTo(1869.5, rp - 1); ctx.lineTo(1873, rp - 1); ctx.stroke();

    frame(ctx, chartArea);
    levels.forEach((p) => {
      const py = y.getPixelForValue(p);
      ctx.fillStyle = "#000"; ctx.fillRect(1876, py - 5, 40, 11);
      put(ctx, p.toFixed(5), 1878, py + 0.5, SMALL, "#fff");
    });
    const cp = y.getPixelForValue(closes[closes.length - 1]);
    ctx.fillStyle = "#505050"; ctx.fillRect(1876, cp - 5, 40, 11);
    put(ctx, closes[closes.length - 1].toFixed(5), 1878, cp + 0.5, SMALL, "#fff");
    ctx.restore();
  },
};

const rsiOverlay = {
  id: "rsiOverlay",
  afterDraw(c: any) {
    const { ctx, chartArea } = c;
    frame(ctx, chartArea);
    put(ctx, "RSI(14) 52.5340", 7, 11, SMALL, "#333");
    put(ctx, "100", 1878, 8, SMALL, "#333");
    put(ctx, "0", 1878, 119, SMALL, "#333");
  },
};
const macdOverlay = {
  id: "macdOverlay",
  afterDraw(c: any) {
    const { ctx, chartArea } = c;
    frame(ctx, chartArea);
    put(ctx, "MACD(12,26,9) -0.001139 -0.003638", 7, 10, SMALL, "#333");
    put(ctx, "0.011123", 1878, 8, SMALL, "#333");
    put(ctx, "-0.019535", 1878, 111, SMALL, "#333");
  },
};

export default function App() {
  const mainRef = useRef<HTMLCanvasElement>(null);
  const rsiRef = useRef<HTMLCanvasElement>(null);
  const macdRef = useRef<HTMLCanvasElement>(null);

  useEffect(() => {
    document.body.style.margin = "0";
    document.documentElement.style.overflow = "hidden";
    const up = closes.map((c, i) => c >= opens[i]);
    const head = (n: number, rot: number, color: string) => ({
      pointRadius: (ctx: any) => (ctx.dataIndex === n - 1 ? 6 : 0),
      pointStyle: "triangle", pointBackgroundColor: color, pointBorderColor: color, rotation: rot,
    });
    const main = new Chart(mainRef.current as any, {
      type: "bar",
      data: {
        datasets: [
          { data: highs.map((h, i) => ({ x: i, y: [lows[i], h] })), backgroundColor: up.map((u) => (u ? CYAN : DARK)), barThickness: 1, maxBarThickness: 1, order: 20, grouped: false },
          { data: closes.map((c, i) => ({ x: i, y: [opens[i], c] })), backgroundColor: up.map((u) => (u ? "#fff" : DARK)), borderColor: up.map((u) => (u ? CYAN : DARK)), borderWidth: 1, borderSkipped: false, minBarLength: 2, barThickness: 3, maxBarThickness: 3, order: 19, grouped: false },
          line(bbUpper, BB, 1, 18), line(bbMiddle, BB, 1, 18), line(bbLower, BB, 1, 18),
          line(ema200, "#000000", 1, 17), line(ema100, "#00ff00", 1, 16), line(ema50, "#ff0000", 1, 15), line(ema21, "#ffff00", 1, 14),
          ...levels.map((p) => line([[X_MIN, p], [X_MAX, p]], "#000000", 1, 6, { borderDash: [11, 5, 3, 5] })),
          line(trendLine, "#00b4dc", 3, 3),
          line(arrowUp, SLATE, 2.5, 2, { tension: 0.45, ...head(arrowUp.length, 12, SLATE) }),
          line(arrowDown, "#00b4dc", 2.5, 1, { tension: 0.45, ...head(arrowDown.length, 155, "#00b4dc") }),
        ],
      } as any,
      options: base({ top: 3, left: 2, right: 0, bottom: 1 }, {
        x: xScale(), y: yScale(6.66631, 6.81574, priceTicks, (v) => Number(v).toFixed(5)),
      }) as any,
      plugins: [mainOverlay] as any,
    });
    const rsiChart = new Chart(rsiRef.current as any, {
      type: "line",
      data: {
        datasets: [
          line(rsi, CYAN, 1, 1),
          ...rsiLevels.map((v) => line([[X_MIN, v], [X_MAX, v]], "#c4c4c4", 1, 5, { borderDash: [3, 3] })),
        ],
      } as any,
      options: base({ top: 2, left: 2, right: 0, bottom: 1 }, {
        x: xScale(), y: yScale(0, 100, rsiTicks, (v) => (v === 80 || v === 20 ? String(v) : "")),
      }) as any,
      plugins: [rsiOverlay] as any,
    });
    const xm = xScale(true) as any;
    xm.afterFit = (s: any) => { s.height = 21; noPad(s); };
    xm.afterBuildTicks = (s: any) => { s.ticks = timeLabels.map((_, k) => ({ value: k * 16 })); };
    xm.border = { display: false };
    xm.grid = { drawOnChartArea: false, tickLength: 3, color: AXIS };
    xm.ticks = { autoSkip: false, maxRotation: 0, minRotation: 0, align: "start", padding: 1, color: "#333", font: TICK_FONT, callback: (v: number) => timeLabels[v / 16] };
    const macdChart = new Chart(macdRef.current as any, {
      type: "bar",
      data: {
        datasets: [
          { data: macdHist.map((y, x) => ({ x, y })), backgroundColor: CYAN, barThickness: 1, maxBarThickness: 1, grouped: false, order: 2 },
          line(macdSignal, "#000000", 1.3, 1),
        ],
      } as any,
      options: base({ top: 2, left: 2, right: 0, bottom: 0 }, {
        x: xm, y: yScale(-0.019535, 0.011123, macdTicks, (v) => (v === 0 ? "0.00" : "")),
      }) as any,
      plugins: [macdOverlay] as any,
    });
    return () => { main.destroy(); rsiChart.destroy(); macdChart.destroy(); };
  }, []);

  const pos = (top: number): any => ({ position: "absolute", left: 0, top, display: "block" });
  return (
    <div style={{ position: "relative", width: 1916, height: 936, background: "#fff" }}>
      <canvas ref={mainRef} width={1916} height={670} style={pos(0)} />
      <canvas ref={rsiRef} width={1916} height={127} style={pos(670)} />
      <canvas ref={macdRef} width={1916} height={139} style={pos(797)} />
    </div>
  );
}
